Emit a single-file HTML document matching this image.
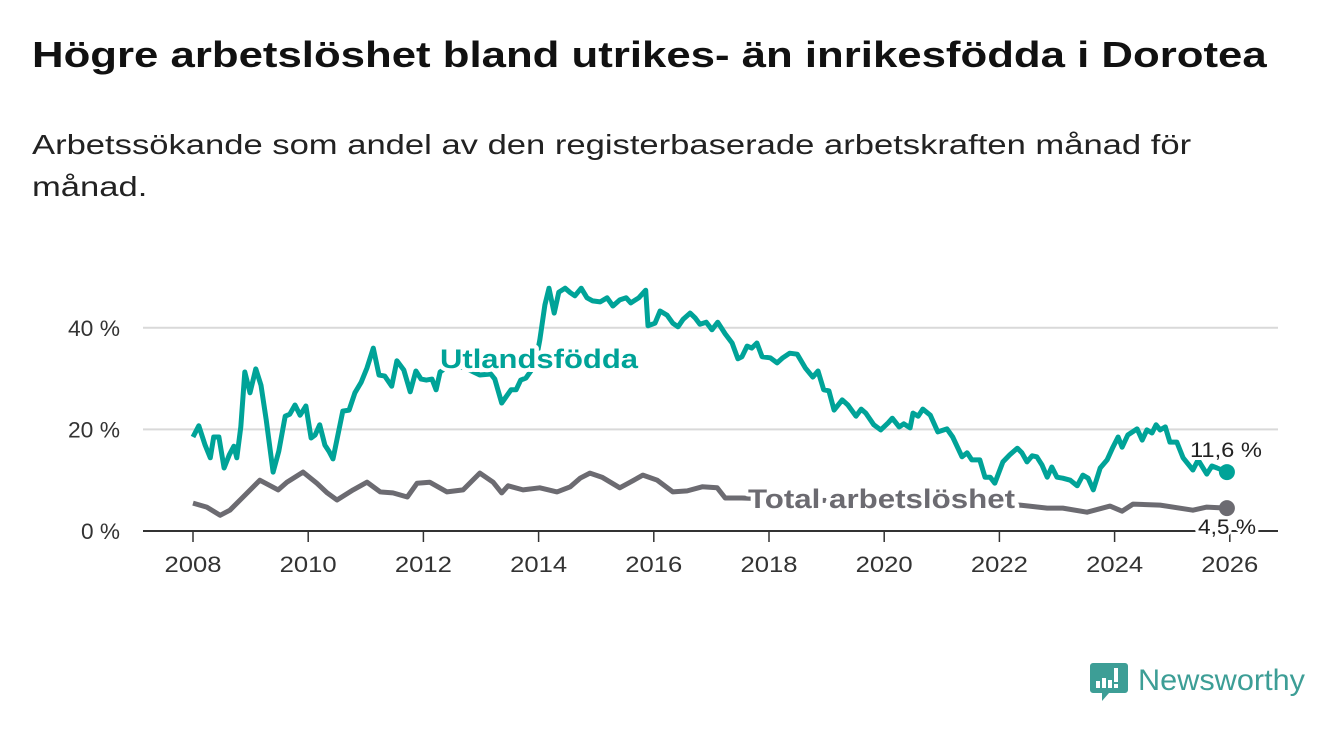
<!DOCTYPE html>
<html><head><meta charset="utf-8"><style>
body{margin:0;background:#fff;width:1340px;height:734px;overflow:hidden;font-family:"Liberation Sans",sans-serif}
#title{position:absolute;left:32px;top:34px;font-size:36px;font-weight:bold;color:#111;margin:0;white-space:nowrap;transform-origin:0 0;transform:scaleX(1.215)}
#sub{position:absolute;left:32px;top:124px;font-size:28px;color:#222;line-height:42px;white-space:nowrap;transform-origin:0 0;transform:scaleX(1.235)}
svg{position:absolute;left:0;top:0}
</style></head><body>
<h1 id="title">Högre arbetslöshet bland utrikes- än inrikesfödda i Dorotea</h1>
<div id="sub">Arbetssökande som andel av den registerbaserade arbetskraften månad för<br>månad.</div>
<svg id="chart" width="1340" height="734"></svg>
<script>
const yTicks=[0,20,40];
const xTicks=[2008,2010,2012,2014,2016,2018,2020,2022,2024,2026];
const utlDates=[2008.00,2008.10,2008.21,2008.30,2008.36,2008.45,2008.54,2008.63,2008.71,2008.76,2008.83,2008.90,2008.99,2009.09,2009.18,2009.27,2009.39,2009.49,2009.60,2009.68,2009.77,2009.86,2009.96,2010.05,2010.12,2010.20,2010.29,2010.36,2010.43,2010.60,2010.71,2010.81,2010.92,2011.02,2011.13,2011.23,2011.33,2011.45,2011.54,2011.66,2011.77,2011.87,2011.96,2012.05,2012.15,2012.22,2012.29,2012.46,2012.72,2012.98,2013.17,2013.24,2013.36,2013.52,2013.61,2013.69,2013.78,2013.94,2014.02,2014.11,2014.18,2014.27,2014.35,2014.46,2014.55,2014.63,2014.74,2014.84,2014.94,2015.07,2015.19,2015.29,2015.41,2015.52,2015.60,2015.74,2015.86,2015.90,2016.02,2016.11,2016.23,2016.33,2016.42,2016.51,2016.63,2016.72,2016.80,2016.91,2017.01,2017.11,2017.24,2017.36,2017.46,2017.53,2017.62,2017.70,2017.79,2017.88,2018.02,2018.14,2018.24,2018.36,2018.49,2018.63,2018.76,2018.85,2018.95,2019.04,2019.13,2019.27,2019.37,2019.51,2019.60,2019.68,2019.82,2019.94,2020.07,2020.14,2020.26,2020.34,2020.45,2020.50,2020.59,2020.67,2020.80,2020.93,2021.09,2021.19,2021.35,2021.44,2021.52,2021.66,2021.75,2021.84,2021.92,2022.06,2022.18,2022.31,2022.39,2022.48,2022.57,2022.65,2022.74,2022.83,2022.91,2023.00,2023.10,2023.23,2023.35,2023.45,2023.54,2023.63,2023.75,2023.87,2023.97,2024.06,2024.13,2024.23,2024.39,2024.48,2024.56,2024.65,2024.72,2024.79,2024.88,2024.96,2025.08,2025.19,2025.36,2025.45,2025.60,2025.69,2025.78,2025.95];
const utlValues=[18.5,20.7,16.9,14.4,18.5,18.5,12.4,15.0,16.7,14.4,20.5,31.3,27.2,31.9,28.7,21.9,11.6,15.7,22.6,23.0,24.8,22.8,24.6,18.3,18.9,20.9,16.9,15.7,14.2,23.6,23.8,27.2,29.3,32.1,36.0,30.7,30.5,28.5,33.5,31.7,27.4,31.5,29.9,29.7,29.9,27.8,31.3,32.7,32.1,30.7,30.9,29.9,25.2,27.8,27.8,29.7,30.1,32.7,37.6,44.5,47.8,42.9,47.0,47.8,46.9,46.3,47.8,45.9,45.3,45.1,45.9,44.3,45.5,45.9,44.9,45.9,47.4,40.4,40.9,43.3,42.5,40.9,40.2,41.7,42.9,41.9,40.7,41.1,39.6,41.1,38.8,37.0,33.9,34.3,36.4,36.0,37.0,34.3,34.1,33.1,34.1,35.0,34.8,32.1,30.3,31.5,27.8,27.6,23.8,25.8,24.8,22.6,24.0,23.2,20.9,19.9,21.3,22.2,20.5,21.1,20.3,23.2,22.6,24.0,22.8,19.5,20.1,18.5,14.6,15.4,14.0,14.0,10.6,10.6,9.4,13.6,15.0,16.3,15.4,13.6,14.8,14.6,13.0,10.6,12.6,10.6,10.4,10.0,8.9,11.0,10.4,8.1,12.4,14.0,16.5,18.5,16.5,18.9,20.1,17.9,19.9,19.3,20.9,19.9,20.5,17.5,17.5,14.4,12.0,14.0,11.2,12.8,12.4,11.6];
const totDates=[2008.00,2008.24,2008.47,2008.64,2008.87,2009.16,2009.48,2009.63,2009.91,2010.15,2010.33,2010.50,2010.78,2011.02,2011.25,2011.47,2011.72,2011.89,2012.11,2012.41,2012.69,2012.98,2013.21,2013.36,2013.47,2013.73,2014.02,2014.32,2014.55,2014.72,2014.89,2015.10,2015.41,2015.59,2015.81,2016.06,2016.33,2016.58,2016.84,2017.10,2017.24,2017.53,2018.0,2019.0,2020.0,2021.0,2022.0,2022.36,2022.83,2023.10,2023.52,2023.92,2024.13,2024.32,2024.79,2025.36,2025.60,2025.95];
const totValues=[5.5,4.7,3.1,4.1,6.7,10.0,8.1,9.6,11.6,9.4,7.5,6.1,8.1,9.6,7.7,7.5,6.7,9.4,9.6,7.7,8.1,11.4,9.6,7.5,8.9,8.1,8.5,7.7,8.7,10.4,11.4,10.6,8.5,9.6,11.0,10.0,7.7,7.9,8.7,8.5,6.5,6.5,6.3,6.0,5.8,5.5,5.0,5.1,4.5,4.5,3.7,4.9,3.9,5.3,5.1,4.1,4.7,4.5];

const svg=document.getElementById('chart');
const NS='http://www.w3.org/2000/svg';
const X0=143,X1=1278;
const xs=d=>193+(d-2008)*57.6;
const ys=v=>531-v*5.08;
function mk(t,a,txt){const e=document.createElementNS(NS,t);for(const k in a)e.setAttribute(k,a[k]);if(txt!=null)e.textContent=txt;svg.appendChild(e);return e;}
const TEAL='#00a398',GRAY='#6c6b71';
yTicks.forEach(v=>{
 if(v>0){const g=mk('line',{x1:X0,x2:X1,y1:ys(v),y2:ys(v),stroke:'#d9d9d9','stroke-width':2});
 
 }
 const s=v+' %';
 const t=mk('text',{x:120,y:ys(v)+8,'text-anchor':'end','font-size':22,fill:'#333',textLength:s.length*13,lengthAdjust:'spacingAndGlyphs'},s);
 
 
});
xTicks.forEach(y=>{
 const l=mk('line',{x1:xs(y),x2:xs(y),y1:531,y2:542,stroke:'#333','stroke-width':1.5});
 
 
 const t=mk('text',{x:xs(y),y:572,'text-anchor':'middle','font-size':22,fill:'#333',textLength:57,lengthAdjust:'spacingAndGlyphs'},String(y));
 
 
});
const ax=mk('line',{x1:X0,x2:X1,y1:531,y2:531,stroke:'#333','stroke-width':2});


function line(d,v,c,name){
 const p=d.map((x,i)=>(i?'L':'M')+xs(x).toFixed(1)+','+ys(v[i]).toFixed(1)).join('');
 const e=mk('path',{d:p,fill:'none',stroke:c,'stroke-width':5,'stroke-linejoin':'round'});
 
 
 const n=d.length-1;
 const dot=mk('circle',{cx:xs(d[n]),cy:ys(v[n]),r:8,fill:c});
 
 
}
line(totDates,totValues,GRAY,'total-line');
line(utlDates,utlValues,TEAL,'utlandsfodda-line');
function lab(x,y,txt,c,sz,bold,name,anchor,len){
 const a={x:x,y:y,fill:c,'font-size':sz,'font-weight':bold?'bold':'normal',stroke:'#fff','stroke-width':bold?8:6,'paint-order':'stroke','stroke-linejoin':'round','text-anchor':anchor||'start'};
 if(len){a.textLength=len;a.lengthAdjust='spacingAndGlyphs';}
 const t=mk('text',a,txt);
 
 
}
lab(440,368,'Utlandsfödda',TEAL,27,true,'utlandsfodda-label','start',198);
lab(748,508,'Total arbetslöshet',GRAY,27,true,'total-label','start',267);
lab(1226,457,'11,6 %','#222',21,false,'utlandsfodda-end-value','middle',72);
lab(1227,534,'4,5 %','#222',21,false,'total-end-value','middle',58);
const g=document.createElementNS(NS,'g');svg.appendChild(g);


g.innerHTML='<path d="M1093 663h32a3 3 0 0 1 3 3v24a3 3 0 0 1-3 3h-16l-7 8v-8h-9a3 3 0 0 1-3-3v-24a3 3 0 0 1 3-3z" fill="#3d9e96"/><rect x="1096" y="681" width="4" height="7" fill="#fff"/><rect x="1102" y="678" width="4" height="10" fill="#fff"/><rect x="1108" y="680" width="4" height="8" fill="#fff"/><rect x="1114" y="668" width="4" height="14" fill="#fff"/><rect x="1114" y="684" width="4" height="4" fill="#fff"/><text x="1138" y="690" font-size="30" fill="#3d9e96" textLength="167" lengthAdjust="spacingAndGlyphs" font-family="Liberation Sans,sans-serif">Newsworthy</text>';
</script>
</body></html>
